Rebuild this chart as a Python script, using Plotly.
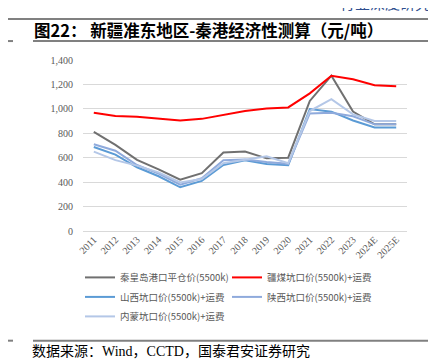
import plotly.graph_objects as go

categories = ["2011", "2012", "2013", "2014", "2015", "2016", "2017", "2018",
              "2019", "2020", "2021", "2022", "2023", "2024E", "2025E"]
qhd_price = [812, 705, 583, 505, 420, 473, 643, 650, 595, 600, 1065, 1272, 978, 873, 873]
xinjiang = [968, 941, 935, 922, 905, 918, 950, 982, 1003, 1012, 1127, 1271, 1243, 1194, 1186]
shanxi = [688, 625, 522, 448, 358, 410, 540, 580, 548, 538, 998, 977, 905, 847, 847]
shaanxi = [710, 657, 540, 470, 380, 432, 580, 585, 565, 550, 963, 969, 940, 873, 873]
neimeng = [650, 580, 535, 480, 398, 425, 555, 582, 612, 555, 982, 1080, 955, 900, 900]
y_ticks = [0, 200, 400, 600, 800, 1000, 1200, 1400]

# name, values, colour, legend column
series = [
    ("秦皇岛港口平仓价(5500k)", qhd_price, "#707070", "legend"),
    ("疆煤坑口价(5500k)+运费", xinjiang, "#FF0000", "legend2"),
    ("山西坑口价(5500k)+运费", shanxi, "#5B9BD5", "legend"),
    ("陕西坑口价(5500k)+运费", shaanxi, "#8FAADC", "legend2"),
    ("内蒙坑口价(5500k)+运费", neimeng, "#B4C7E7", "legend"),
]

W, H = 436, 360
L, R, T, B = 75, 37, 51.5, 137
PW, PH = W - L - R, H - T - B


def px2x(px):
    return (px - L) / PW


def px2y(py):
    return (H - B - py) / PH


fig = go.Figure()
for i, (name, vals, color, leg) in enumerate(series):
    fig.add_trace(go.Scatter(x=categories, y=vals, name=name, mode="lines",
                             legend=leg, legendgroup="g%d" % i,
                             line=dict(color=color, width=2)))

serif = "Liberation Serif, Times New Roman, Noto Sans CJK SC"
leg_font = dict(family="Noto Sans CJK SC", size=9.5, color="#595959")
fig.update_layout(
    width=W, height=H,
    margin=dict(l=L, r=R, t=T, b=B),
    paper_bgcolor="white", plot_bgcolor="white",
    showlegend=True,
    legend=dict(orientation="v", x=px2x(72), xanchor="left", y=px2y(255), yanchor="top",
                font=leg_font, tracegroupgap=0.5, bgcolor="rgba(0,0,0,0)"),
    legend2=dict(orientation="v", x=px2x(219), xanchor="left", y=px2y(255), yanchor="top",
                 font=leg_font, tracegroupgap=0.5, bgcolor="rgba(0,0,0,0)"),
    xaxis=dict(type="category", range=[-0.5, 14.5], tickangle=-45, showgrid=False,
               showline=False, ticks="", tickfont=dict(family=serif, size=10, color="#595959")),
    yaxis=dict(range=[0, 1400], tickvals=y_ticks, tickformat=",", showgrid=True,
               gridcolor="#D9D9D9", gridwidth=1, zeroline=True, zerolinecolor="#D9D9D9",
               zerolinewidth=1, showline=False, ticks="", ticklabelstandoff=9,
               tickfont=dict(family=serif, size=10, color="#595959")),
)

fig.add_annotation(text="<b>图22： 新疆准东地区-秦港经济性测算（元/吨）</b>", xref="paper", yref="paper",
                   x=px2x(24), y=px2y(21), xanchor="left", yanchor="middle", showarrow=False,
                   font=dict(family="Noto Sans CJK SC", size=16.5, color="#000000"))
fig.add_annotation(text="行业深度研究", xref="paper", yref="paper",
                   x=px2x(424), y=px2y(6), xanchor="right", yanchor="bottom", showarrow=False,
                   font=dict(family="Noto Sans CJK SC", size=15, color="#2F4F8F"))
fig.add_annotation(text="数据来源：Wind，CCTD，国泰君安证券研究", xref="paper", yref="paper",
                   x=px2x(22), y=px2y(344), xanchor="left", yanchor="middle", showarrow=False,
                   font=dict(family="Liberation Serif, Noto Sans CJK SC", size=14, color="#000000"))

for (x0, x1, yy) in [(0, 436, 10.5), (25, 427, 32.5), (0, 5, 32.5), (25, 427, 333), (0, 5, 333)]:
    fig.add_shape(type="line", xref="paper", yref="paper", x0=px2x(x0), x1=px2x(x1),
                  y0=px2y(yy), y1=px2y(yy), line=dict(color="#808080", width=2))

fig.write_html("out.html")
